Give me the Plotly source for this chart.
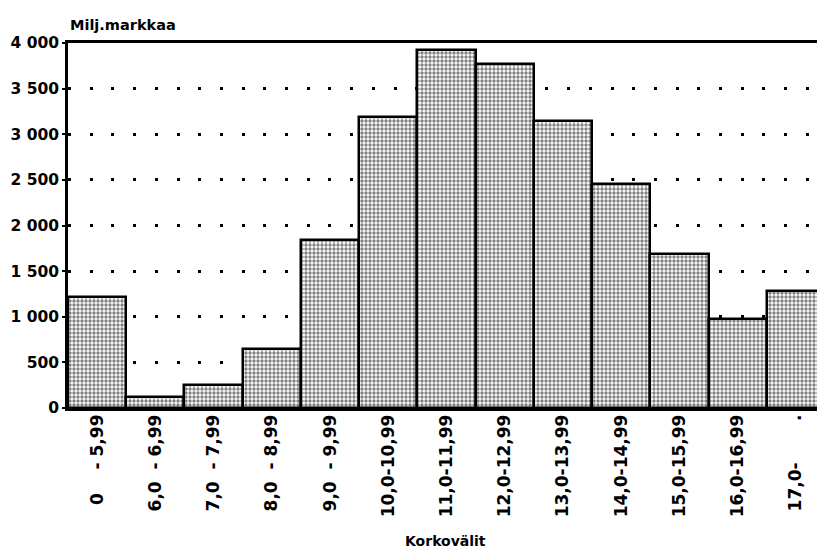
import plotly.graph_objects as go

NB = "\u00a0"
categories = ["0" + NB * 4 + "-" + NB + "5,99",
              "6,0" + NB * 2 + "-" + NB + "6,99",
              "7,0" + NB * 2 + "-" + NB + "7,99",
              "8,0" + NB * 2 + "-" + NB + "8,99",
              "9,0" + NB * 2 + "-" + NB + "9,99",
              "10,0-10,99", "11,0-11,99", "12,0-12,99", "13,0-13,99",
              "14,0-14,99", "15,0-15,99", "16,0-16,99",
              "17,0-" + NB * 7 + "."]
values = [1215, 120, 250, 645, 1845, 3190, 3925, 3770, 3140, 2460, 1685, 975, 1280]
y_tickvals = [0, 500, 1000, 1500, 2000, 2500, 3000, 3500, 4000]
y_ticktext = ["0", "500", "1 000", "1 500", "2 000", "2 500", "3 000", "3 500", "4 000"]

font_family = "DejaVu Sans, Liberation Sans, sans-serif"

# the html page adds an 8px body margin, so the figure is offset by (8, 8)
OFF = 8
W, H = 825 - OFF, 553 - OFF
L, R, T, B = 68 - OFF, 0, 43 - OFF, 145
pw, ph = W - L - R, H - T - B

fig = go.Figure()
fig.add_trace(go.Bar(
    x=list(range(len(categories))),
    y=values,
    width=1.0,
    marker=dict(
        color="white",
        line=dict(color="black", width=2.5),
        pattern=dict(shape=".", fgcolor="black", bgcolor="white", size=4, solidity=0.55),
    ),
    hoverinfo="skip",
))

fig.update_layout(
    width=W, height=H,
    margin=dict(l=L, r=R, t=T, b=B, pad=0),
    paper_bgcolor="white", plot_bgcolor="white",
    showlegend=False,
    font=dict(family=font_family, color="black"),
    bargap=0,
    xaxis=dict(
        range=[-0.5, 12.5],
        tickvals=list(range(len(categories))),
        ticktext=categories,
        tickangle=-90,
        tickfont=dict(size=17, family=font_family, weight="bold"),
        showline=True, linecolor="black", linewidth=2.5, mirror=True,
        showgrid=False, ticks="", ticklen=0, ticklabelstandoff=-3,
        zeroline=False, automargin=False,
    ),
    yaxis=dict(
        range=[0, 4000],
        tickvals=y_tickvals,
        ticktext=y_ticktext,
        tickfont=dict(size=15.5, family=font_family, weight="bold"),
        showline=True, linecolor="black", linewidth=2.5,
        showgrid=True, gridcolor="black", gridwidth=3, griddash="3px,18.7px",
        ticks="outside", ticklen=3, tickwidth=1.5, tickcolor="black",
        zeroline=False, automargin=False,
    ),
    annotations=[
        dict(text="Milj.markkaa", x=(68 - 68) / pw, y=(553 - B - 17 - OFF) / ph, xref="paper", yref="paper",
             xanchor="left", yanchor="middle", showarrow=False,
             font=dict(size=14.5, family=font_family, weight="bold")),
        dict(text="Korkovälit", x=(445 - 68) / pw, y=(553 - B - 541) / ph, xref="paper", yref="paper",
             xanchor="center", yanchor="middle", showarrow=False,
             font=dict(size=14, family=font_family, weight="bold")),
    ],
)

fig.write_html("out.html")
